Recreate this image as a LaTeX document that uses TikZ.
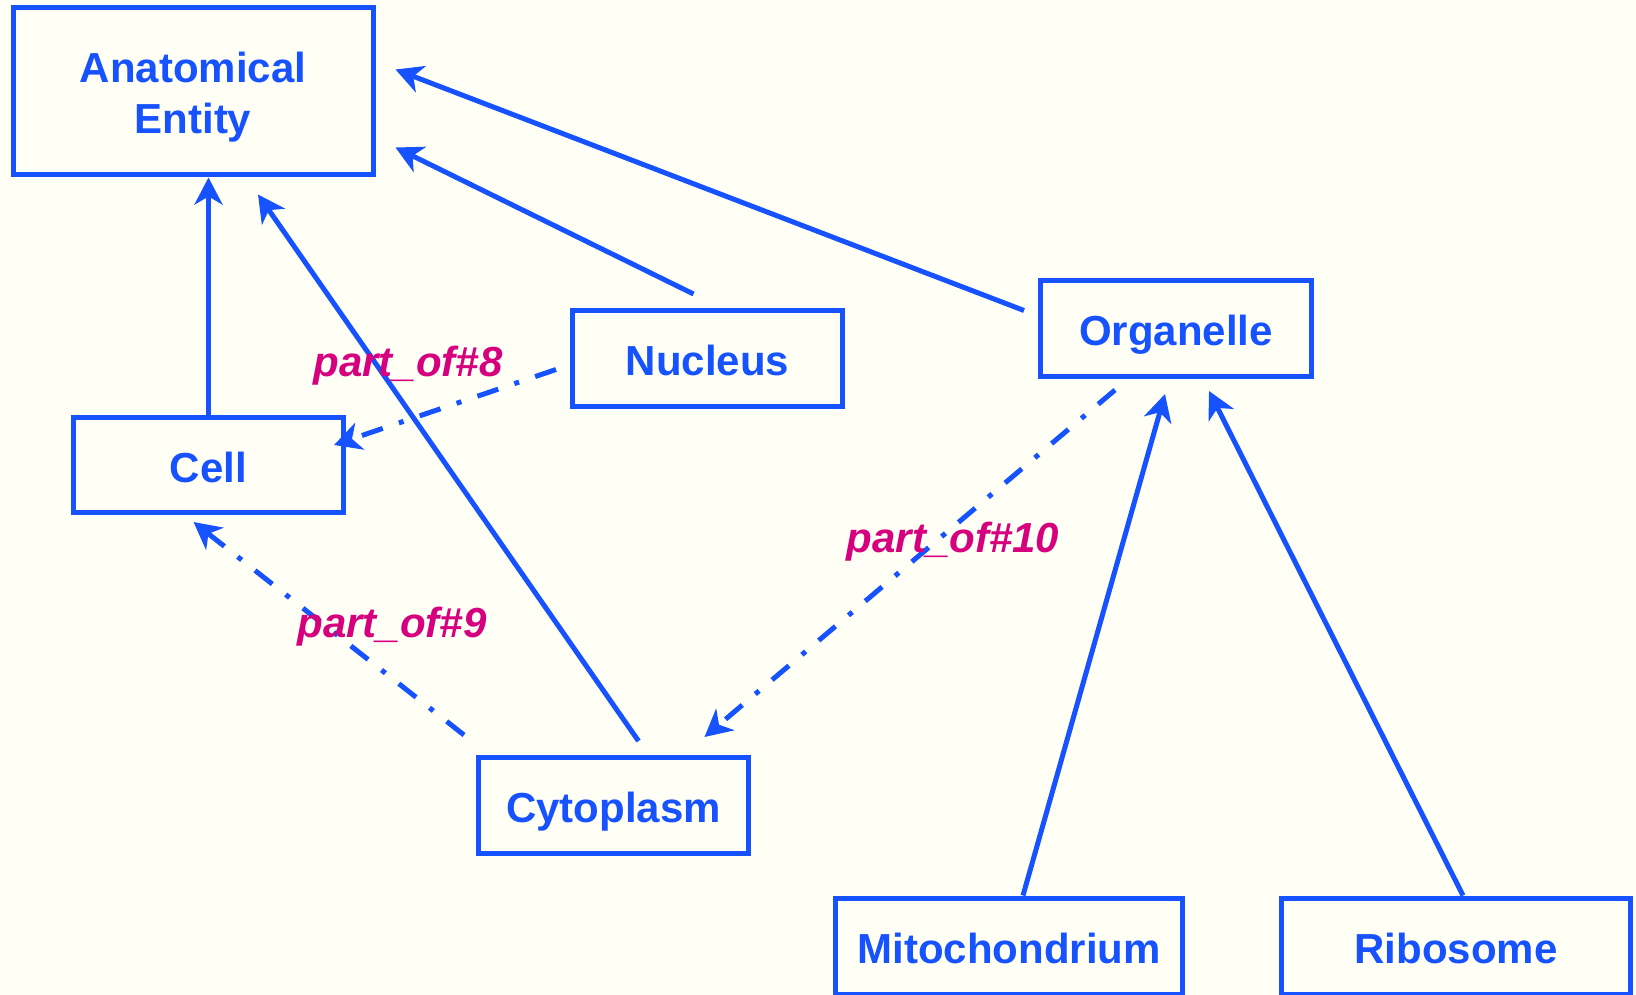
\documentclass[tikz,border=0pt]{standalone}
\usepackage{fontspec}
\setmainfont{Liberation Sans}
\usetikzlibrary{arrows.meta}
\definecolor{ontoblue}{RGB}{22,82,255}
\definecolor{relpink}{RGB}{214,0,127}
\definecolor{paper}{RGB}{255,255,245}
\newcommand\boxfont{\fontsize{42}{51}\selectfont\bfseries}
\tikzset{
    box/.style = {draw=ontoblue, line width=5pt, text=ontoblue, font=\boxfont, inner sep=0pt, align=center,
                  text height=34pt, text depth=0pt},
    isa/.style = {ontoblue, line width=5pt, -{Stealth[length=27pt,width=28pt,inset=8pt]}},
    partof/.style = {isa, dash pattern=on 22pt off 17pt on 5pt off 17pt},
    rel/.style = {text=relpink, font=\boxfont\itshape, inner sep=0pt},
}

\begin{document}
\begin{tikzpicture}[x=1pt,y=-1pt]
    \fill[paper] (0,0) rectangle (1636,995);
    \useasboundingbox (0,0) rectangle (1636,995);
    % --- Boxes
    \node[box, minimum width=360pt, minimum height=167pt, text height=85pt] (ent) at (193,91.5) {Anatomical\\Entity};
    \node[box, minimum width=270pt, minimum height=95pt]  (cell) at (208.5,465)  {Cell};
    \node[box, minimum width=270pt, minimum height=96pt]  (nuc)  at (707.5,358.5) {Nucleus};
    \node[box, minimum width=271pt, minimum height=96pt]  (org)  at (1176,328.5) {Organelle};
    \node[box, minimum width=270pt, minimum height=96pt]  (cyto) at (613.5,805.5) {Cytoplasm};
    \node[box, minimum width=347pt, minimum height=96pt]  (mito) at (1009,946)   {Mitochondrium};
    \node[box, minimum width=349pt, minimum height=96pt]  (ribo) at (1456,946)   {Ribosome};
    % --- is_a links
    \draw[isa] (cell.north) -- (cell.north |- ent.south);
    \draw[isa] ([shift={(25,-14)}]cyto.north) -- ([shift={(65,17)}]ent.south);
    \draw[isa] ([shift={(-14,-14)}]nuc.north) -- ([shift={(20,-30)}]ent.south east);
    \draw[isa] ([shift={(-14,-18)}]org.west) -- ([shift={(20,64)}]ent.north east);
    \draw[isa] ([shift={(14,0)}]mito.north) -- ([shift={(-11,15)}]org.south);
    \draw[isa] ([shift={(7,0)}]ribo.north) -- ([shift={(33,12)}]org.south);
    % --- part_of links
    \draw[partof] ([shift={(-14,11)}]nuc.west) -- ([shift={(-12,30)}]cell.north east);
    \draw[partof] ([shift={(-12,-20)}]cyto.north west) -- ([shift={(-15,7)}]cell.south);
    \draw[partof] ([shift={(-61,11)}]org.south) -- ([shift={(91,-18)}]cyto.north);
    % --- Labels
    \node[rel] (rel8)  at (408,366) {part\_of\#8};
    \node[rel] (rel9)  at (392,627) {part\_of\#9};
    \node[rel] (rel10) at (953,542) {part\_of\#10};
\end{tikzpicture}
\end{document}
